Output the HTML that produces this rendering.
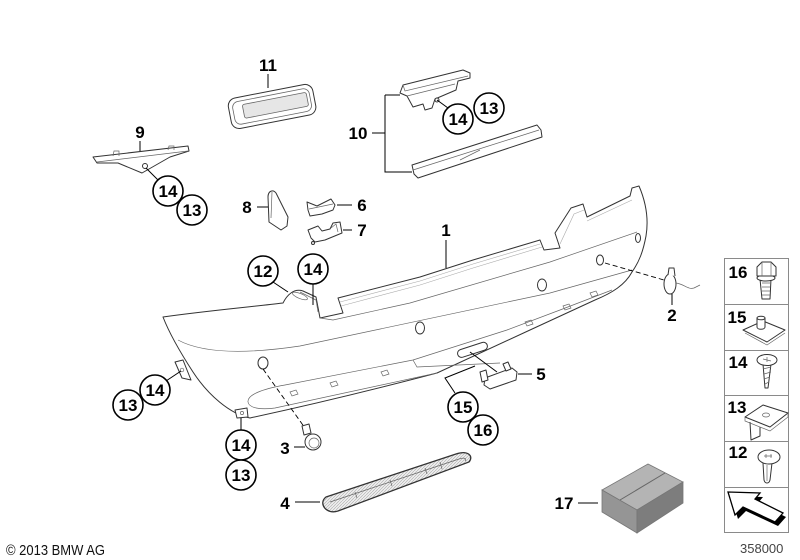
<!DOCTYPE html>
<html><head><meta charset="utf-8"><style>
html,body{margin:0;padding:0;background:#fff;}
svg{display:block;}
text{font-family:"Liberation Sans",Arial,sans-serif;}
.n{font-weight:bold;font-size:17px;text-anchor:middle;fill:#000;}
.c{fill:#fff;stroke:#000;stroke-width:1.6;}
.l{stroke:#000;stroke-width:1;fill:none;}
.p{stroke:#333;stroke-width:1;fill:#fff;stroke-linejoin:round;}
.g{stroke:#666;stroke-width:0.7;fill:none;}
.r{stroke:#aaa;stroke-width:0.6;fill:none;}
.d{stroke:#000;stroke-width:0.9;fill:none;stroke-dasharray:5,3;}
</style></head><body>
<svg width="800" height="560" viewBox="0 0 800 560" xmlns="http://www.w3.org/2000/svg">
<defs>
<pattern id="h" width="3" height="3" patternUnits="userSpaceOnUse"><rect width="3" height="3" fill="#eeeeee"/><path d="M0,3 L3,0" stroke="#aaa" stroke-width="0.6"/></pattern>
</defs>

<!-- Part 11 lamp -->
<g transform="rotate(-11 272 106)">
 <rect x="229" y="91" width="86" height="31" rx="8" class="p" fill="#f2f2f2" stroke-width="1.2"/>
 <rect x="233" y="95" width="78" height="23" rx="6" fill="none" stroke="#666" stroke-width="0.8"/>
 <rect x="243" y="99" width="65" height="14" rx="2" fill="#e6e6e6" stroke="#666" stroke-width="0.8"/>
</g>
<line x1="268" y1="74" x2="268" y2="88" class="l"/>
<text class="n" x="268" y="71">11</text>

<!-- Part 9 -->
<path d="M93,157 L188,146 L189,151 L170,157 L142,173 L118,163 L97,163 Z" class="p" fill="#f0f0f0"/>
<path d="M97,162 L188,151" class="g"/>
<path d="M113,156 L114,151 L119,151 L119,156" class="g"/>
<path d="M168,150 L169,146 L174,146 L174,150" class="g"/>
<circle cx="145" cy="166" r="2.5" class="p"/>
<line x1="140" y1="141" x2="140" y2="151" class="l"/>
<text class="n" x="140" y="138">9</text>
<line x1="146" y1="168" x2="158" y2="180" class="l"/>
<circle class="c" cx="168" cy="191" r="15"/><text class="n" x="168" y="197">14</text>
<circle class="c" cx="192" cy="210" r="15"/><text class="n" x="192" y="216">13</text>

<!-- Part 10 -->
<path d="M403,85 L463,70 L470,73 L470,78 L458,81 L456,90 L435,99 L432,108 L425,110 L423,104 L413,107 L407,96 L400,93 Z" class="p" fill="#f0f0f0"/>
<path d="M403,85 L405,91 L468,76" class="g"/>
<path d="M407,96 L455,84" class="g"/>
<circle cx="437" cy="100" r="2" class="p"/>
<path d="M412,165 L537,125 L541,130 L542,137 L418,178 L414,174 Z" class="p" fill="#eee"/>
<path d="M413,170 L539,130" class="g"/>
<path d="M460,160 L480,150" class="g"/>
<path d="M385,95 L400,95 M385,95 L385,172 L412,172 M372,133 L385,133" class="l" stroke="#333"/>
<text class="n" x="358" y="139">10</text>
<line x1="437" y1="100" x2="448" y2="108" class="l"/>
<circle class="c" cx="458" cy="119" r="15"/><text class="n" x="458" y="125">14</text>
<circle class="c" cx="489" cy="108" r="15"/><text class="n" x="489" y="114">13</text>

<!-- Part 8 -->
<path d="M268,197 C268,191 273,189 276,193 L288,217 L287,226 L281,230 L269,222 Z" class="p" fill="#e6e6e6"/>
<path d="M272,192 L271,218" class="g"/>
<line x1="257" y1="207" x2="268" y2="207" class="l"/>
<text class="n" x="247" y="213">8</text>

<!-- Part 6 -->
<path d="M307,202 L317,206 L331,199 L335,205 L333,210 L322,214 L310,216 L308,210 Z" class="p" fill="#eaeaea"/>
<path d="M309,209 L333,204" class="g"/>
<line x1="337" y1="205" x2="352" y2="205" class="l"/>
<text class="n" x="362" y="211">6</text>

<!-- Part 7 -->
<path d="M308,230 L318,226 L322,231 L330,229 L333,223 L340,222 L342,233 L325,240 L315,242 L311,238 Z" class="p" fill="#eaeaea"/>
<path d="M331,228 L336,224 L338,232" class="g"/>
<circle cx="313" cy="243" r="1.5" class="p"/>
<line x1="343" y1="230" x2="352" y2="230" class="l"/>
<text class="n" x="362" y="236">7</text>

<!-- Bumper -->
<path class="p" stroke-width="1.1" d="M163,317 C205,311 250,307 283,303 C287,295 294,288 303,291 L316,297 L320,318 L343,313 L338,298 L420,277 L473,260 L540,240 L544,250 L560,248 L555,233 L571,208 L583,204 L587,217 L630,196 L632,188 L639,186 C645,200 649,218 646,236 C643,252 639,262 632,272 C625,285 612,293 595,300 L530,330 L437,373 C380,388 310,405 250,418 C230,414 208,395 193,372 C180,352 170,335 163,317 Z"/>
<path class="g" d="M320,318 L333,320 L410,303 L550,262 L637,232"/>
<path class="r" d="M340,302 L420,281 L473,264 L540,244"/>
<path class="r" d="M341,306 L420,285 L473,268 L542,247"/>
<path class="r" d="M560,244 L574,214 L584,210"/>
<path class="r" d="M587,221 L632,200"/>
<path class="g" d="M178,340 C200,352 240,355 300,346 L550,293 L632,270"/>
<path class="g" d="M285,385 L413,360 L507,330 L560,310 L612,290"/>
<path class="g" d="M285,385 C262,389 247,395 248,402 C249,408 260,410 275,408 L437,373"/>
<path class="g" d="M413,360 L417,367 L500,363"/>
<path class="g" d="M300,292 L316,300 L318,312"/>
<ellipse cx="300" cy="296" rx="8" ry="2.5" transform="rotate(22 300 296)" class="g"/>
<!-- band tabs -->
<path class="g" d="M290,392 L296,390 L298,394 L292,396 Z M330,383 L336,381 L338,385 L332,387 Z M381,372 L387,370 L389,374 L383,376 Z M525,322 L531,320 L533,324 L527,326 Z M563,306 L569,304 L571,308 L565,310 Z M590,293 L596,291 L598,295 L592,297 Z"/>
<!-- sensor holes -->
<ellipse cx="263" cy="363" rx="5" ry="6" class="p"/>
<ellipse cx="420" cy="328" rx="4.5" ry="6" class="p"/>
<ellipse cx="542" cy="285" rx="4.5" ry="6" class="p"/>
<ellipse cx="600" cy="260" rx="3.5" ry="5" class="p"/>
<ellipse cx="638" cy="238" rx="2.5" ry="4.5" class="p"/>
<!-- license lamp -->
<rect x="457" y="346" width="31" height="8" rx="4" transform="rotate(-18 472 350)" class="p"/>
<!-- brackets -->
<path d="M175,362 L183,360 L191,380 L182,378 Z" class="p"/>
<circle cx="182" cy="370" r="1.8" class="g"/>
<path d="M235,410 L247,408 L248,417 L237,418 Z" class="p"/>
<circle cx="242" cy="413" r="1.6" class="g"/>

<!-- Part 1 leader -->
<line x1="446" y1="240" x2="446" y2="268" class="l"/>
<text class="n" x="446" y="236">1</text>
<!-- 12 / 14 -->
<line x1="273" y1="282" x2="288" y2="292" class="l"/>
<circle class="c" cx="263" cy="271" r="15"/><text class="n" x="263" y="277">12</text>
<line x1="313" y1="284" x2="313" y2="305" class="l"/>
<circle class="c" cx="313" cy="269" r="15"/><text class="n" x="313" y="275">14</text>
<!-- left 14/13 -->
<line x1="166" y1="381" x2="181" y2="371" class="l"/>
<circle class="c" cx="155" cy="390" r="15"/><text class="n" x="155" y="396">14</text>
<circle class="c" cx="128" cy="405" r="15"/><text class="n" x="128" y="411">13</text>
<line x1="241" y1="418" x2="241" y2="430" class="l"/>
<circle class="c" cx="241" cy="445" r="15"/><text class="n" x="241" y="451">14</text>
<circle class="c" cx="241" cy="475" r="15"/><text class="n" x="241" y="481">13</text>

<!-- Part 2 -->
<line x1="605" y1="263" x2="664" y2="280" class="d"/>
<ellipse cx="670" cy="284" rx="6" ry="10" class="p"/>
<path d="M668,275 L669,268 L674,268 L675,276" class="p"/>
<path d="M676,283 C684,284 688,290 694,288 L700,285" class="g" stroke="#444"/>
<line x1="672" y1="294" x2="672" y2="305" class="l"/>
<text class="n" x="672" y="321">2</text>

<!-- Part 5 -->
<line x1="470" y1="352" x2="497" y2="372" class="l" stroke-width="0.8"/>
<path d="M485,378 L512,368 L517,372 L516,380 L490,389 L484,385 Z" class="p" fill="#f0f0f0"/>
<path d="M480,372 L486,370 L488,380 L482,382 Z M503,364 L508,362 L511,369 L506,371 Z" class="p"/>
<line x1="518" y1="374" x2="532" y2="374" class="l"/>
<text class="n" x="541" y="380">5</text>

<!-- 15 / 16 -->
<path d="M455,393 L445,378 L475,366" class="l"/>
<circle class="c" cx="463" cy="407" r="15"/><text class="n" x="463" y="413">15</text>
<circle class="c" cx="483" cy="430" r="15"/><text class="n" x="483" y="436">16</text>

<!-- Part 3 -->
<line x1="263" y1="369" x2="305" y2="428" class="d"/>
<path d="M302,426 L309,424 L311,433 L304,435 Z" class="p"/>
<circle cx="313" cy="442" r="8" class="p" stroke-width="1.2"/>
<circle cx="314" cy="443" r="5" class="g" stroke="#444"/>
<line x1="294" y1="447" x2="305" y2="447" class="l"/>
<text class="n" x="285" y="454">3</text>

<!-- Part 4 -->
<path d="M326,497 L456,454 C468,450 474,456 469,462 L338,511 C326,515 318,503 326,497 Z" fill="url(#h)" stroke="#333" stroke-width="1.3"/>
<path d="M330,502 L459,459 C465,457 467,459 465,461" class="g"/>
<path class="g" d="M355,492 L357,498 M390,480 L392,486 M425,468 L427,474 M440,462 L442,469"/>
<line x1="295" y1="502" x2="320" y2="502" class="l"/>
<text class="n" x="285" y="509">4</text>

<!-- Part 17 box -->
<path d="M602,490 L648,464 L683,482 L637,510 Z" fill="#b4b4b4" stroke="#777" stroke-width="0.8"/>
<path d="M602,490 L637,510 L637,533 L602,512 Z" fill="#959595" stroke="#777" stroke-width="0.8"/>
<path d="M637,510 L683,482 L683,503 L637,533 Z" fill="#7d7d7d" stroke="#777" stroke-width="0.8"/>
<line x1="620" y1="500" x2="665" y2="473" stroke="#666" stroke-width="1"/>
<line x1="578" y1="503" x2="598" y2="503" class="l"/>
<text class="n" x="564" y="509">17</text>

<!-- Right column legend -->
<g stroke="#8a8a8a" stroke-width="1" fill="none">
<rect x="724.5" y="258.5" width="64" height="274"/>
<line x1="724" y1="304.5" x2="789" y2="304.5"/>
<line x1="724" y1="350.5" x2="789" y2="350.5"/>
<line x1="724" y1="395.5" x2="789" y2="395.5"/>
<line x1="724" y1="441.5" x2="789" y2="441.5"/>
<line x1="724" y1="487.5" x2="789" y2="487.5"/>
</g>
<text class="n" x="738" y="278">16</text>
<text class="n" x="737" y="323">15</text>
<text class="n" x="738" y="368">14</text>
<text class="n" x="737" y="413">13</text>
<text class="n" x="738" y="458">12</text>
<!-- 16 bolt -->
<path d="M760,279 L762,299 L770,299 L771,279 Z" class="p"/>
<path class="g" d="M762,283 L770,283 M762,287 L770,287 M762,291 L770,291 M762,295 L770,295"/>
<ellipse cx="766" cy="278" rx="9" ry="3" class="p"/>
<path d="M757,267 L762,262 L771,262 L776,267 L776,276 L757,276 Z" class="p"/>
<path class="g" d="M762,262 L762,276 M771,262 L771,276"/>
<!-- 15 clip nut -->
<path d="M743,330 L763,321 L785,330 L767,342 Z" class="p"/>
<path d="M745,333 L767,345 L785,333" class="g"/>
<path d="M757,318 L757,327 C757,330 765,330 765,327 L765,318 Z" class="p"/>
<ellipse cx="761" cy="318" rx="4" ry="1.8" class="p"/>
<!-- 14 screw -->
<path d="M763,364 L765,388 L768,388 L771,364 Z" class="p"/>
<path class="g" d="M763,369 L771,367 M764,374 L771,372 M764,379 L770,377 M765,384 L769,382"/>
<ellipse cx="767" cy="360" rx="10" ry="5.5" class="p"/>
<path class="g" d="M763,359 L771,361 M767,357 L767,362"/>
<!-- 13 square nut -->
<path d="M750,422 L751,440 L760,436 L760,427" class="p"/>
<path d="M745,417 L763,405 L788,413 L770,427 Z" class="p"/>
<path d="M745,417 L745,421 L770,431 L788,417 L788,413" class="g"/>
<ellipse cx="766" cy="415" rx="3.5" ry="2" class="g"/>
<!-- 12 clip -->
<path d="M763,463 L764,480 C765,484 769,484 770,480 L772,463 Z" class="p"/>
<path class="g" d="M767,465 L767,481"/>
<ellipse cx="769" cy="457" rx="11" ry="7" class="p"/>
<path class="g" d="M764,456 L772,456 M766,454 L766,458 M771,454 L771,458"/>
<!-- arrow -->
<path d="M731,496 L763,497 L758,503 L786,517 L778,526 L746,511 L738,519 Z" fill="#000"/>
<path d="M728,492 L760,493 L755,499 L783,513 L775,522 L743,507 L735,515 Z" fill="#fff" stroke="#000" stroke-width="1.3" stroke-linejoin="miter"/>

<!-- footer -->
<text x="6" y="555" font-size="15" textLength="99" lengthAdjust="spacingAndGlyphs" fill="#111">© 2013 BMW AG</text>
<text x="740" y="553" font-size="13" fill="#444">358000</text>
</svg>
</body></html>
